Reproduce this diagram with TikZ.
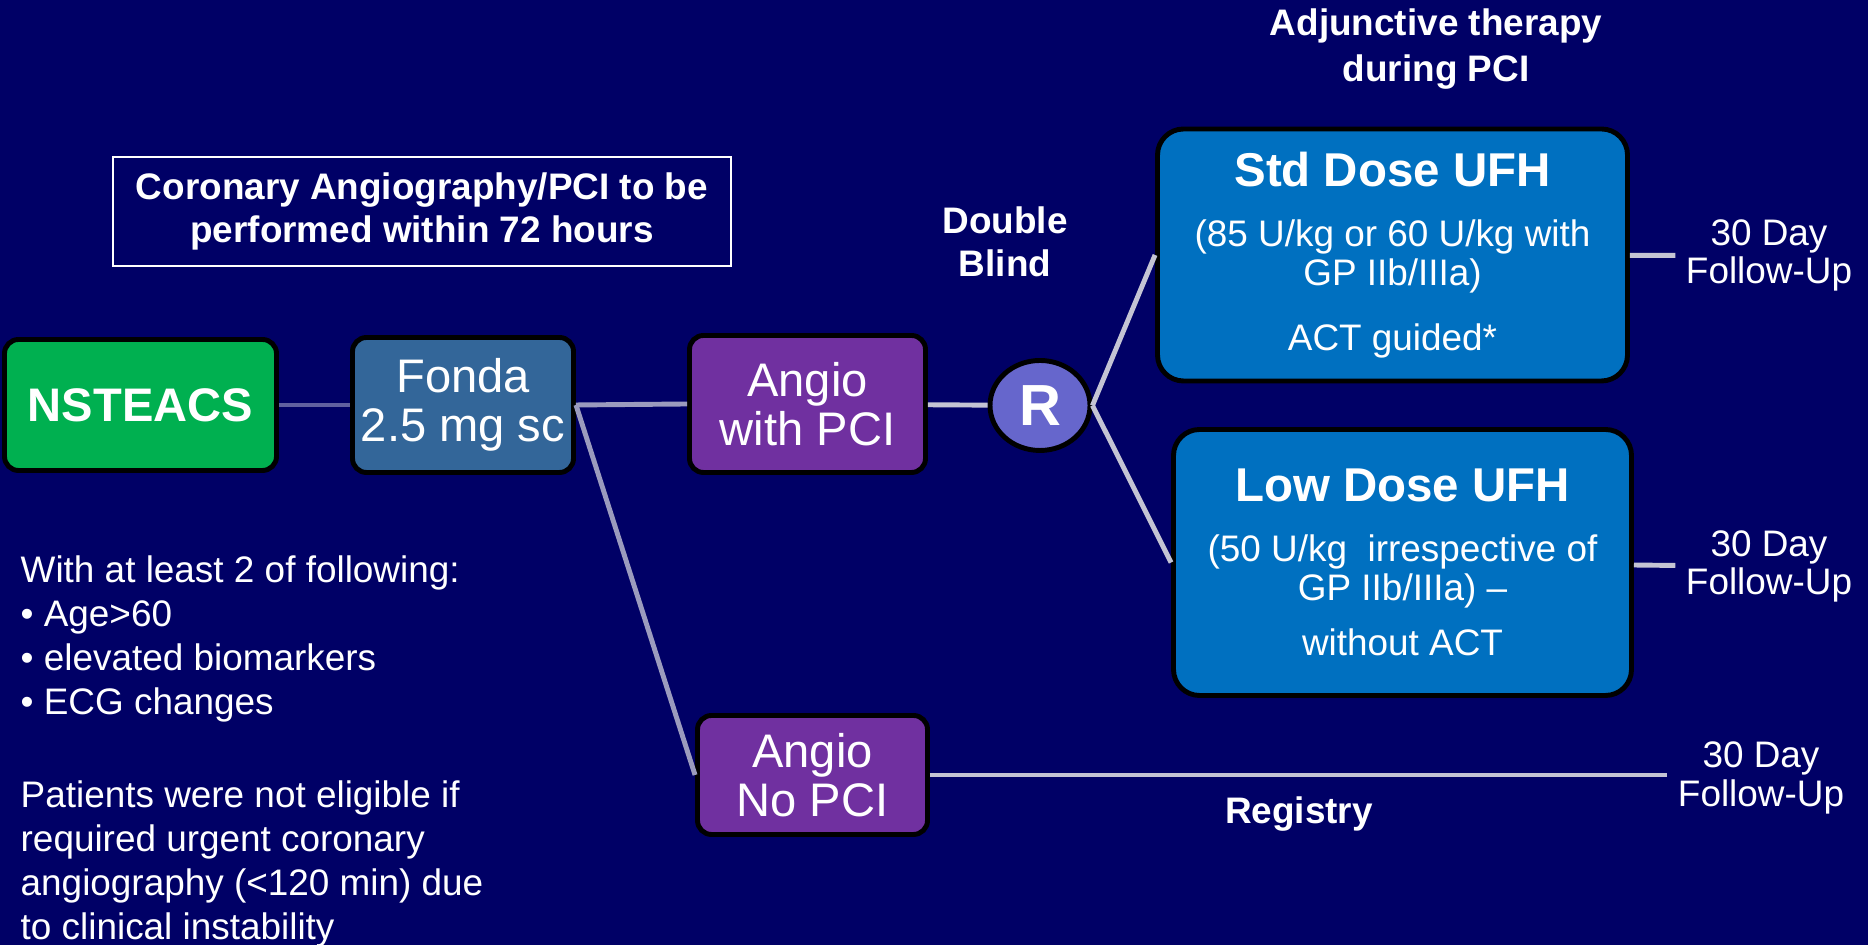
\documentclass[tikz,border=0pt]{standalone}
\usepackage{fontspec}
\setmainfont{Liberation Sans}
\usetikzlibrary{shapes.geometric}
\definecolor{navybg}{RGB}{0,0,102}
\definecolor{nstgreen}{RGB}{0,176,80}
\definecolor{fondablue}{RGB}{51,102,153}
\definecolor{angiopurple}{RGB}{112,48,160}
\definecolor{randblue}{RGB}{102,102,204}
\definecolor{ufhblue}{RGB}{0,112,192}
\definecolor{linkdark}{RGB}{96,96,160}
\definecolor{linkmid}{RGB}{155,155,190}
\definecolor{linklight}{RGB}{196,196,212}
\begin{document}
\begin{tikzpicture}[scale=1,
  box/.style={draw=black,line width=1.4pt,rounded corners=0.14cm,text=white,align=center,inner sep=0pt,font=\fontsize{13.4}{14}\selectfont},
  ufhbox/.style={box,fill=ufhblue,rounded corners=0.26cm,font=\fontsize{10.5}{11}\selectfont},
  lbl/.style={text=white,align=center,inner sep=0.1cm,font=\fontsize{10.5}{11}\selectfont},
  head/.style={text=white,align=center,inner sep=0pt},
  link/.style={line width=1.4pt}]
	\fill[navybg] (0,0) rectangle (18.68,9.45);
	\useasboundingbox (0,0) rectangle (18.68,9.45);
	\node[box,fill=nstgreen,minimum width=2.72cm,minimum height=1.31cm,font=\bfseries\fontsize{13.4}{14}\selectfont] (nst) at (1.405,5.40) {NSTEACS};
	\node[box,fill=fondablue,minimum width=2.21cm,minimum height=1.35cm] (fonda) at (4.63,5.40) {Fonda\\2.5 mg sc};
	\node[box,fill=angiopurple,minimum width=2.36cm,minimum height=1.37cm] (pci) at (8.075,5.41) {Angio\\with PCI};
	\node[box,fill=angiopurple,minimum width=2.30cm,minimum height=1.19cm] (nopci) at (8.125,1.70) {Angio\\No PCI};
	\node[ellipse,draw=black,line width=1.4pt,fill=randblue,minimum width=1.0cm,minimum height=0.9cm,inner sep=0pt,text=white,font=\bfseries\fontsize{16.5}{16.5}\selectfont] (rand) at (10.40,5.395) {R};
	\node[ufhbox,minimum width=4.70cm,minimum height=2.52cm] (std) at (13.925,6.90) {{\bfseries\fontsize{13.5}{13.5}\selectfont Std Dose UFH}\\[6.1pt](85 U/kg or 60 U/kg with\\GP IIb/IIIa)\\[7.4pt]ACT guided*};
	\node[ufhbox,minimum width=4.58cm,minimum height=2.66cm] (low) at (14.025,3.825) {{\bfseries\fontsize{13.5}{13.5}\selectfont Low Dose UFH}\\[6.1pt](50 U/kg~ irrespective of\\GP IIb/IIIa) --\\[4.6pt]without ACT};
	\node[draw=white,line width=0.6pt,head,minimum width=6.18cm,minimum height=1.09cm,font=\bfseries\fontsize{10.5}{12.4}\selectfont] (crit) at (4.22,7.335) {Coronary Angiography/PCI to be\\performed within 72 hours};
	\node[head,font=\bfseries\fontsize{10.5}{12.4}\selectfont] (blind) at (10.05,7.03) {Double\\Blind};
	\node[head,font=\bfseries\fontsize{10.5}{13.1}\selectfont] (adj) at (14.36,8.96) {Adjunctive therapy\\during PCI};
	\node[lbl] (fu1) at (17.69,6.895) {30 Day\\Follow-Up};
	\node[lbl] (fu2) at (17.69,3.785) {30 Day\\Follow-Up};
	\node[lbl] (fu3) at (17.61,1.67) {30 Day\\Follow-Up};
	\node[head,font=\bfseries\fontsize{10.5}{11}\selectfont] (reg) at (12.99,1.31) {Registry};
	\node[anchor=north west,text=white,align=left,inner sep=0pt,font=\fontsize{10.5}{12.55}\selectfont] (incl) at (0.20,3.90) {With at least 2 of following:\\• Age>60\\• elevated biomarkers\\• ECG changes\\[13.8pt]Patients were not eligible if\\required urgent coronary\\angiography (<120 min) due\\to clinical instability};
	\draw[link,linkdark] (nst) -- (fonda);
	\draw[link,linkmid] (fonda.east) -- (pci.west);
	\draw[link,linkmid] (fonda.east) -- (nopci.west);
	\draw[link,linklight] (pci) -- (rand);
	\draw[link,linklight] (rand.east) -- (std.west);
	\draw[link,linklight] (rand.east) -- (low.west);
	\draw[link,linklight] (std) -- (fu1);
	\draw[link,linklight] (low) -- (fu2);
	\draw[link,linklight] (nopci.east) -- (nopci.east -| fu3.west);
\end{tikzpicture}
\end{document}
